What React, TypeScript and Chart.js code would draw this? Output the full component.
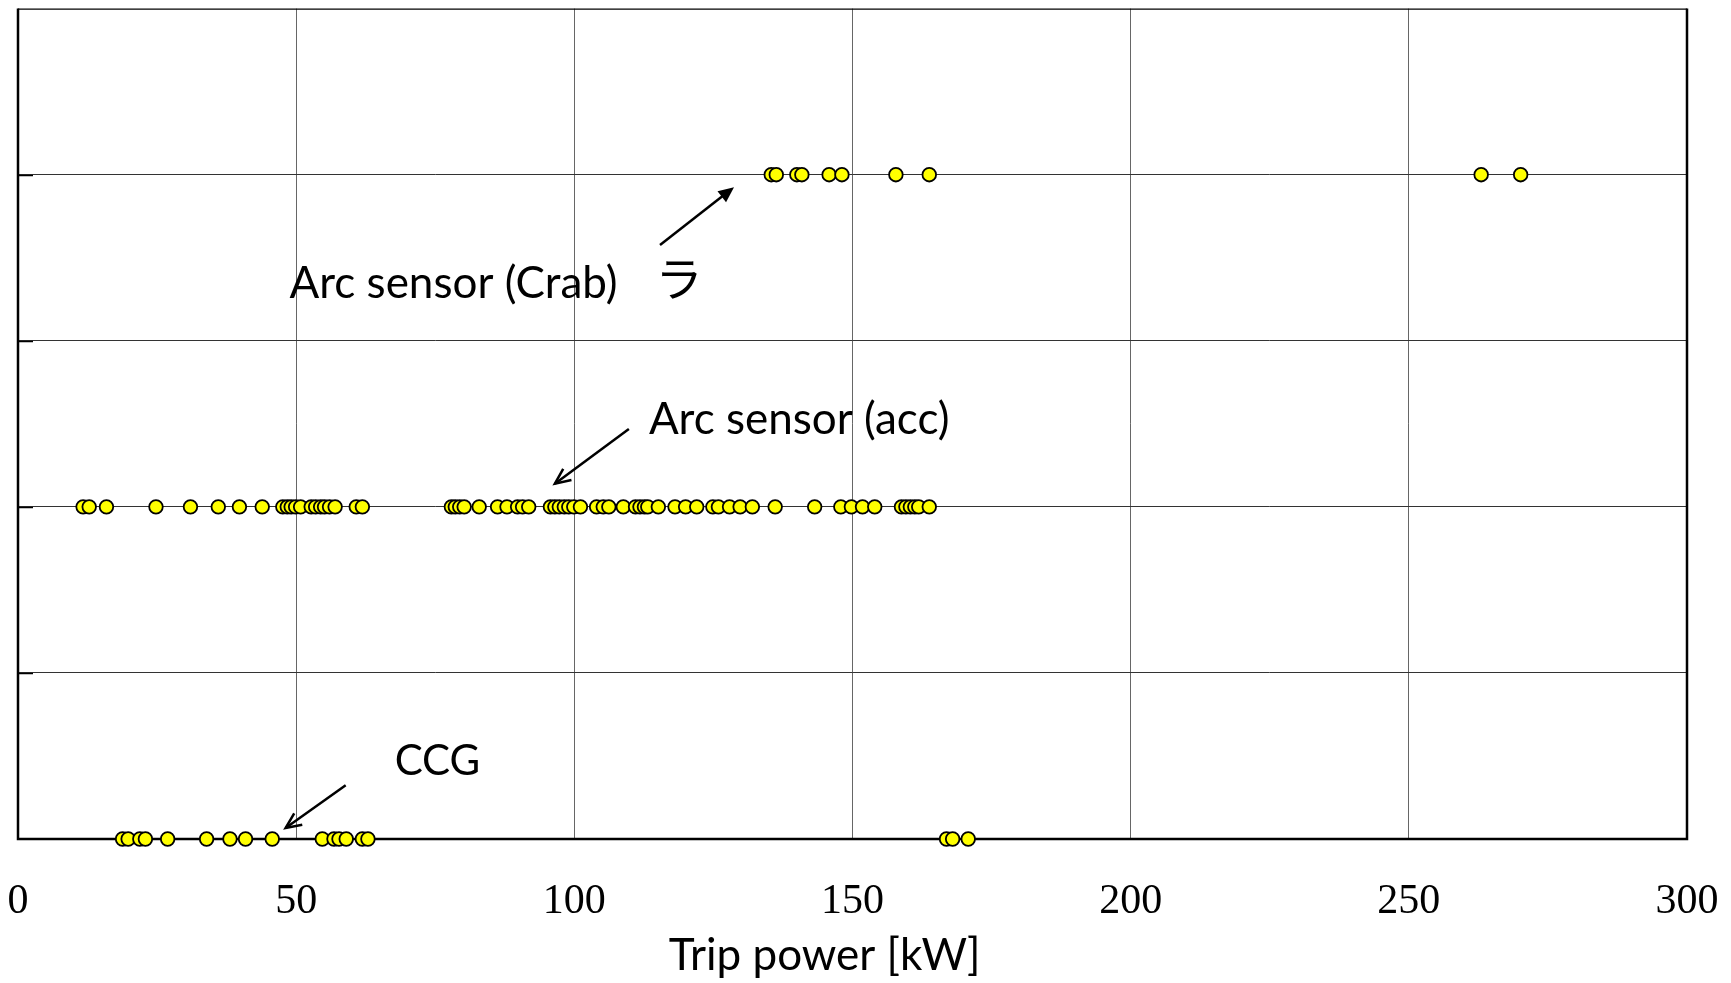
import { useEffect, useRef } from "react";
import { Chart, registerables } from "chart.js";

Chart.register(...registerables);

// Trip power [kW] recorded for each interlock source
const ccgPower = [
  18.8, 19.8, 21.9, 22.9, 26.9, 33.9, 38.1, 40.9, 45.7, 54.7, 56.8, 57.7, 59.0, 61.9, 62.9,
  166.9, 168.0, 170.8,
];

const accPower = [
  11.7, 12.8, 15.9, 24.8, 31.0, 36.0, 39.8, 43.9,
  47.6, 48.4, 49.1, 49.9, 50.8, 52.7, 53.5, 54.4, 55.1, 56.0, 57.0, 60.8, 61.9,
  77.9, 78.6, 79.4, 80.2, 82.9, 86.2, 87.9, 89.8, 90.7, 91.8,
  95.7, 96.5, 97.3, 98.2, 99.0, 99.9, 101.1,
  104.0, 105.2, 106.2, 108.8, 111.0, 111.8, 112.6, 113.2, 115.1, 118.1, 120.0, 122.0,
  124.9, 125.9, 127.9, 129.8, 132.0, 136.1,
  143.2, 147.9, 149.8, 151.8, 154.0, 158.8, 159.6, 160.4, 161.2, 161.9, 163.8,
];

const crabPower = [135.4, 136.3, 140.0, 140.9, 145.8, 148.1, 157.8, 163.8, 263.0, 270.1];

// Row of each source on the (unlabelled) vertical axis
const ccgRow = 0;
const accRow = 2;
const crabRow = 4;

const xTickValues = [0, 50, 100, 150, 200, 250, 300];
const xTitle = "Trip power [kW]";

// Callout texts, placed in data units
const calloutTexts = ["Arc sensor (Crab)", "ラ", "Arc sensor (acc)", "CCG"];
const calloutX = [48.8, 114.6, 113.4, 67.7];
const calloutY = [3.34, 3.38, 2.525, 0.467];
const calloutSize = [44, 47, 44, 42];

// Callout arrows: tail -> head, in data units
const arrowTailX = [115.4, 109.8, 58.9];
const arrowTailY = [3.577, 2.469, 0.324];
const arrowHeadX = [128.7, 96.5, 48.1];
const arrowHeadY = [3.925, 2.139, 0.066];
const arrowFilled = [true, false, false];

const SANS = "Lato, 'Open Sans', sans-serif";
const SERIF = "'Liberation Serif', 'DejaVu Serif', serif";

function drawArrow(
  ctx: CanvasRenderingContext2D,
  x1: number,
  y1: number,
  x2: number,
  y2: number,
  filled: boolean
) {
  const ang = Math.atan2(y2 - y1, x2 - x1);
  const len = 17;
  const half = 0.42;
  const ax = x2 - len * Math.cos(ang - half);
  const ay = y2 - len * Math.sin(ang - half);
  const bx = x2 - len * Math.cos(ang + half);
  const by = y2 - len * Math.sin(ang + half);
  ctx.beginPath();
  ctx.moveTo(x1, y1);
  if (filled) {
    ctx.lineTo(x2 - len * 0.8 * Math.cos(ang), y2 - len * 0.8 * Math.sin(ang));
  } else {
    ctx.lineTo(x2, y2);
  }
  ctx.stroke();
  ctx.beginPath();
  if (filled) {
    ctx.moveTo(x2, y2);
    ctx.lineTo(ax, ay);
    ctx.lineTo(bx, by);
    ctx.closePath();
    ctx.fill();
  } else {
    ctx.moveTo(ax, ay);
    ctx.lineTo(x2, y2);
    ctx.lineTo(bx, by);
    ctx.stroke();
  }
}

const decorPlugin = {
  id: "decor",
  beforeDatasetsDraw(chart: any) {
    const { ctx, chartArea: a, scales } = chart;
    const ys = scales.y;
    ctx.save();
    ctx.strokeStyle = "#000";
    // short inner ticks on the left axis
    ctx.lineWidth = 1.5;
    for (let v = 1; v <= 4; v++) {
      const y = Math.round(ys.getPixelForValue(v)) + 0.5;
      ctx.beginPath();
      ctx.moveTo(a.left, y);
      ctx.lineTo(a.left + 15, y);
      ctx.stroke();
    }
    // plot frame
    ctx.lineWidth = 1.2;
    ctx.beginPath();
    ctx.moveTo(a.left, a.top + 0.5);
    ctx.lineTo(a.right, a.top + 0.5);
    ctx.stroke();
    ctx.lineWidth = 2.5;
    ctx.beginPath();
    ctx.moveTo(a.left, a.top);
    ctx.lineTo(a.left, a.bottom);
    ctx.lineTo(a.right, a.bottom);
    ctx.lineTo(a.right, a.top);
    ctx.stroke();
    ctx.restore();
  },
  afterDatasetsDraw(chart: any) {
    const { ctx, scales, chartArea: a } = chart;
    const xs = scales.x;
    const ys = scales.y;
    ctx.save();
    ctx.fillStyle = "#000";
    ctx.strokeStyle = "#000";
    ctx.textBaseline = "middle";
    ctx.textAlign = "left";
    calloutTexts.forEach((t, i) => {
      const cjk = /[\u3040-\u30ff\u4e00-\u9fff]/.test(t);
      ctx.font = cjk
        ? `${calloutSize[i]}px 'Noto Sans CJK JP'`
        : `${calloutSize[i]}px ${SANS}`;
      ctx.fillText(t, xs.getPixelForValue(calloutX[i]), ys.getPixelForValue(calloutY[i]));
    });
    ctx.lineWidth = 2.5;
    ctx.lineCap = "butt";
    arrowTailX.forEach((_, i) => {
      drawArrow(
        ctx,
        xs.getPixelForValue(arrowTailX[i]),
        ys.getPixelForValue(arrowTailY[i]),
        xs.getPixelForValue(arrowHeadX[i]),
        ys.getPixelForValue(arrowHeadY[i]),
        arrowFilled[i]
      );
    });
    // axis title
    ctx.font = `44px ${SANS}`;
    ctx.textAlign = "center";
    ctx.fillText(xTitle, xs.getPixelForValue(145), a.bottom + 117);
    ctx.restore();
  },
};

const pointStyle = {
  showLine: false,
  pointRadius: 6.8,
  pointHoverRadius: 6.8,
  pointBackgroundColor: "#FFFF00",
  pointBorderColor: "#000",
  pointBorderWidth: 1.8,
  clip: false as const,
};

export default function App() {
  const canvasRef = useRef<HTMLCanvasElement>(null);

  useEffect(() => {
    if (!canvasRef.current) return;
    const chart = new Chart(canvasRef.current, {
      type: "scatter",
      data: {
        datasets: [
          {
            label: "CCG",
            data: ccgPower.map((p) => ({ x: p, y: ccgRow })),
            ...pointStyle,
          },
          {
            label: "Arc sensor (acc)",
            data: accPower.map((p) => ({ x: p, y: accRow })),
            ...pointStyle,
          },
          {
            label: "Arc sensor (Crab)",
            data: crabPower.map((p) => ({ x: p, y: crabRow })),
            ...pointStyle,
          },
        ],
      },
      options: {
        responsive: false,
        animation: false,
        devicePixelRatio: 1,
        layout: { padding: { left: 18, top: 4, right: 44, bottom: 0 } },
        plugins: {
          legend: { display: false },
          tooltip: { enabled: false },
        },
        scales: {
          x: {
            type: "linear",
            min: 0,
            max: 300,
            afterBuildTicks: (scale: any) => {
              scale.ticks = xTickValues.map((v) => ({ value: v }));
            },
            afterFit: (scale: any) => {
              scale.height = 144;
              scale.paddingLeft = 0;
              scale.paddingRight = 0;
            },
            border: { display: false },
            grid: {
              drawTicks: false,
              lineWidth: 1,
              color: (c: any) =>
                c.tick && (c.tick.value === 0 || c.tick.value === 300) ? "rgba(0,0,0,0)" : "#666",
            },
            ticks: {
              padding: 38,
              color: "#000",
              font: { family: SERIF, size: 42 },
              maxRotation: 0,
              autoSkip: false,
            },
          },
          y: {
            type: "linear",
            min: 0,
            max: 5,
            afterFit: (scale: any) => {
              scale.width = 0;
              scale.paddingTop = 0;
              scale.paddingBottom = 0;
            },
            border: { display: false },
            grid: {
              drawTicks: false,
              lineWidth: 1,
              color: (c: any) =>
                c.tick && (c.tick.value === 0 || c.tick.value === 5) ? "rgba(0,0,0,0)" : "#333",
            },
            ticks: { display: false, stepSize: 1 },
          },
        },
      },
      plugins: [decorPlugin],
    });
    return () => chart.destroy();
  }, []);

  return (
    <div style={{ position: "absolute", left: 0, top: 0, width: 1731, height: 983, background: "#fff" }}>
      <canvas ref={canvasRef} width={1731} height={983} style={{ display: "block" }} />
    </div>
  );
}
